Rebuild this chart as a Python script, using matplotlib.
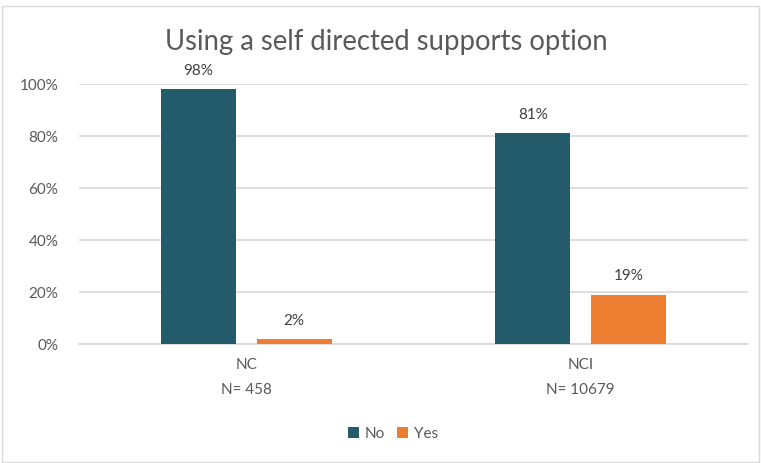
import matplotlib
matplotlib.use("Agg")
import matplotlib.pyplot as plt
from matplotlib.patches import Rectangle
import numpy as np

categories = ["NC\nN= 458", "NCI\nN= 10679"]
series_names = ["No", "Yes"]
no_vals = [0.98, 0.81]
yes_vals = [0.02, 0.19]
labels_no = ["98%", "81%"]
labels_yes = ["2%", "19%"]
title = "Using a self directed supports option"

plt.rcParams['font.family'] = ['Lato', 'DejaVu Sans']
text_color = "#595959"
c_no = "#235B6B"
c_yes = "#ED7D31"

fig = plt.figure(figsize=(7.61, 4.63), dpi=100)
fig.patches.append(Rectangle((0.003, 0.003), 0.994, 0.985, transform=fig.transFigure,
                             fill=False, edgecolor="#D9D9D9", linewidth=1))
ax = fig.add_axes([79/761, 1-344/463, (748-79)/761, (344-84)/463])

x = np.arange(len(categories))
w = 0.224
off = 0.1435
b1 = ax.bar(x - off, no_vals, w, color=c_no, label=series_names[0], zorder=3)
b2 = ax.bar(x + off, yes_vals, w, color=c_yes, label=series_names[1], zorder=3)
for rect, lab in zip(b1, labels_no):
    ax.annotate(lab, (rect.get_x() + rect.get_width()/2, rect.get_height()),
                xytext=(0, 8), textcoords="offset points", ha="center", va="bottom",
                fontsize=11, color="#404040", annotation_clip=False)
for rect, lab in zip(b2, labels_yes):
    ax.annotate(lab, (rect.get_x() + rect.get_width()/2, rect.get_height()),
                xytext=(0, 8), textcoords="offset points", ha="center", va="bottom",
                fontsize=11, color="#404040", annotation_clip=False)

ax.set_xlim(-0.5, 1.5)
ax.set_ylim(0, 1.0)
ax.set_yticks(np.arange(0, 1.01, 0.2))
ax.set_yticklabels([f"{int(round(v*100))}%" for v in np.arange(0, 1.01, 0.2)])
ax.set_xticks(x)
ax.set_xticklabels(categories, linespacing=2.0)
ax.tick_params(axis="both", length=0, labelsize=11, labelcolor=text_color)
ax.tick_params(axis="y", pad=15)
ax.tick_params(axis="x", pad=10)
ax.grid(axis="y", color="#D9D9D9", linewidth=1.2, zorder=0)
for s in ["top", "right", "left"]:
    ax.spines[s].set_visible(False)
ax.spines["bottom"].set_color("#D9D9D9")
ax.spines["bottom"].set_linewidth(1.2)

fig.text(386/761, 1-42/463, title, ha="center", va="center", fontsize=19.8, color=text_color)
leg = fig.legend(loc="center", bbox_to_anchor=(393/761, 1-434/463), ncol=2, frameon=False,
                 fontsize=11, handlelength=0.7, handleheight=0.7, handletextpad=0.4,
                 columnspacing=0.8, labelcolor=text_color)

fig.savefig("out.png", dpi=100)
